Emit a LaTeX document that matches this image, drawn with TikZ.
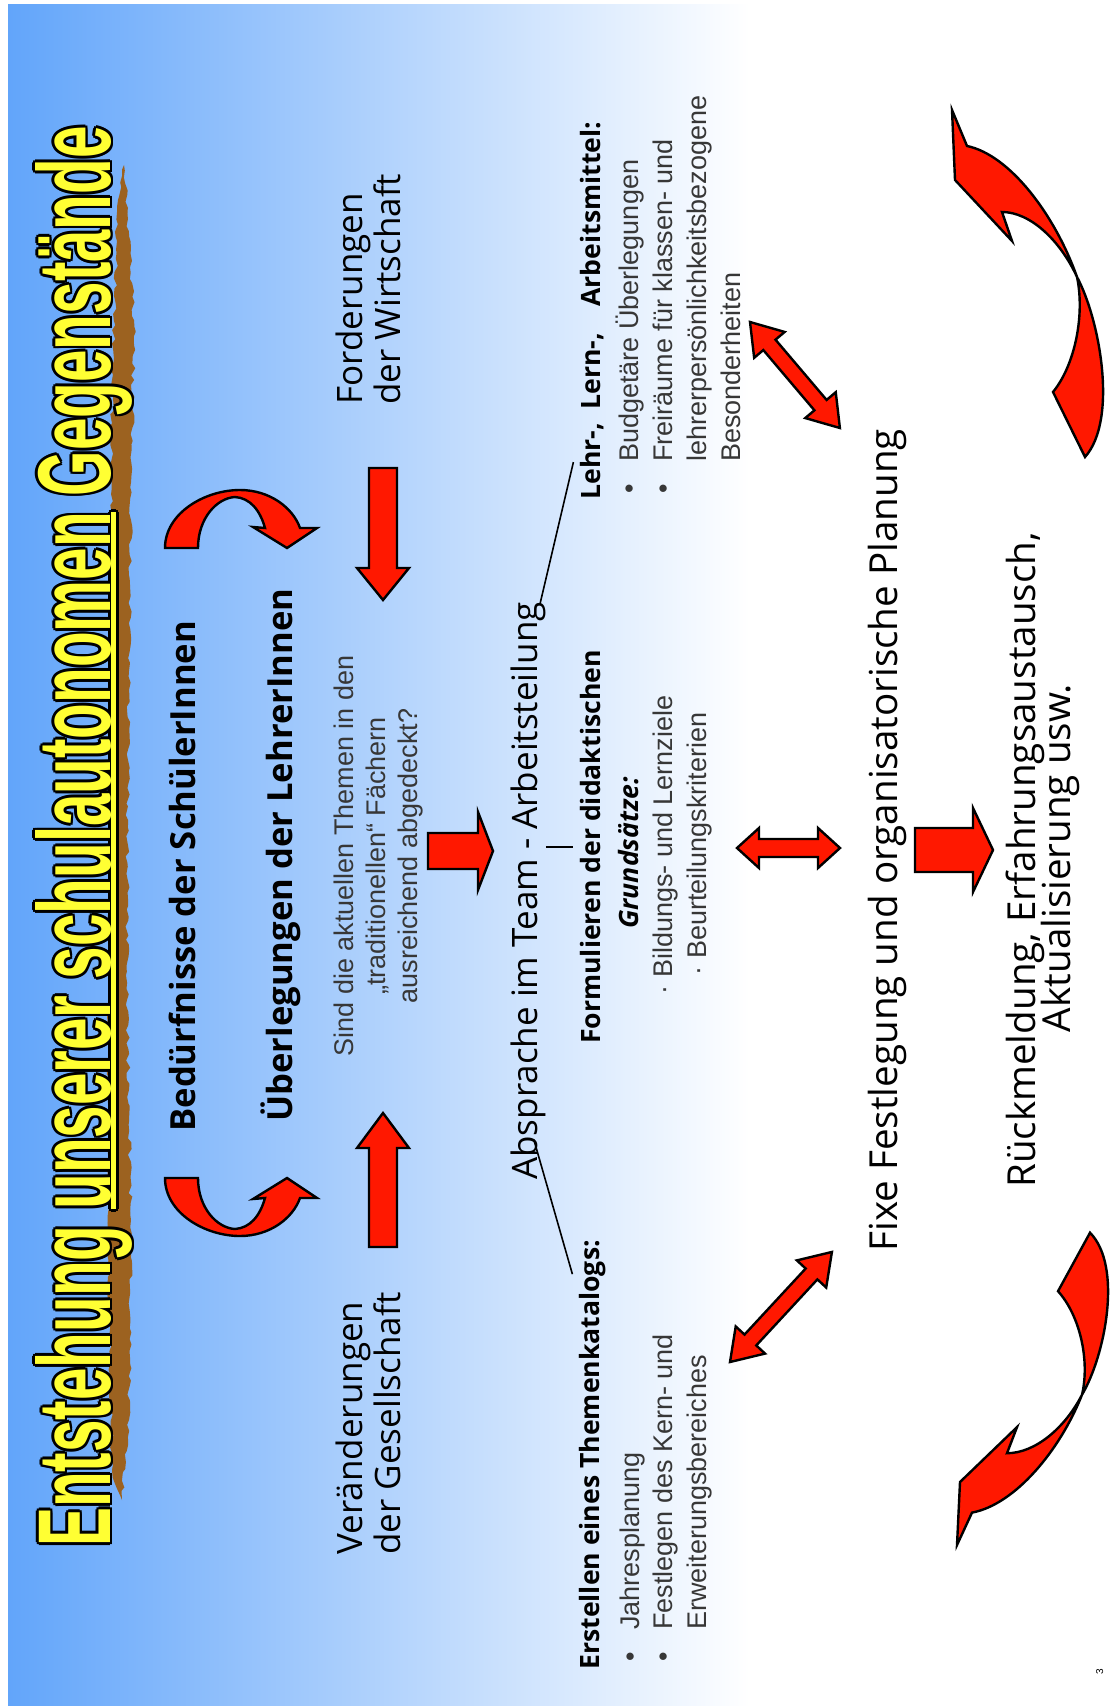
\documentclass[tikz,border=0pt]{standalone}
\usepackage{fontspec}
\usepackage{graphicx}
\usetikzlibrary{calc,decorations.pathmorphing}

\setmainfont{Open Sans}
\newfontfamily\comic{Open Sans}
\newfontfamily\arial{Liberation Sans}

\definecolor{slideblue}{RGB}{98,165,250}
\definecolor{arrowred}{RGB}{255,24,0}
\definecolor{titleyellow}{RGB}{255,255,51}
\definecolor{shadowbrown}{RGB}{156,98,32}
\definecolor{textgray}{RGB}{55,55,55}

%titel
\newcommand{\ulin}[1]{\setbox0\hbox{#1}\rlap{\rule[-0.6pt]{\wd0}{0.5pt}}\box0\relax}
\newcommand{\titletext}{\resizebox{710pt}{37.5pt}{\arial\bfseries Entstehung \ulin{unserer schulautonomen} Gegenstände}}

\tikzset{
  vline/.style={rotate=90, anchor=base west, inner sep=0pt},
  vmid/.style={rotate=90, anchor=base, inner sep=0pt},
  comicbig/.style={font=\comic\fontsize{17.5}{21}\selectfont},
  comichuge/.style={font=\comic\fontsize{19.3}{23}\selectfont},
  comicbold/.style={font=\comic\bfseries\fontsize{17.3}{21}\selectfont},
  comichead/.style={font=\comic\bfseries\fontsize{13.3}{16}\selectfont},
  comicheadit/.style={font=\comic\bfseries\itshape\fontsize{13.3}{16}\selectfont},
  arialtext/.style={font=\arial\fontsize{13.5}{16}\selectfont, text=textgray},
  redarrow/.style={fill=arrowred, draw=black, line width=1.2pt},
  thinline/.style={draw=black, line width=0.8pt},
  pics/blockarrow/.style args={#1/#2/#3/#4}{code={
    \draw[redarrow] (0,-#2) -- (#1,-#2) -- (#1,-#4) -- ({#1+#3},0) -- (#1,#4) -- (#1,#2) -- (0,#2) -- cycle;
  }},
  pics/dblarrow/.style args={#1/#2/#3/#4}{code={
    \draw[redarrow] (0,0) -- (#3,-#4) -- (#3,-#2) -- ({#1-#3},-#2) -- ({#1-#3},-#4) -- (#1,0) -- ({#1-#3},#4) -- ({#1-#3},#2) -- (#3,#2) -- (#3,#4) -- cycle;
  }},
  pics/smallcurve/.style={code={
    \draw[redarrow] (0,0) .. controls (0,-35) and (40,-58) .. (75,-58) .. controls (105,-58) and (128,-40) .. (135,-20) -- (152,-20) -- (122,0) -- (88,-21) -- (100,-20) .. controls (95,-38) and (85,-50) .. (70,-51) .. controls (52,-50) and (33,-30) .. (33,0) -- cycle;
  }},
  pics/bigcurve/.style={code={
    \draw[redarrow] (0,0) -- (15,36) .. controls (58,45) and (103,105) .. (125,167) .. controls (148,210) and (166,310) .. (133,347) -- (101,282) .. controls (123,255) and (133,205) .. (125,167) .. controls (108,130) and (78,102) .. (50,102) -- (60,131) -- (3,70) -- cycle;
  }},
}

\begin{document}
\begin{tikzpicture}[x=0.5pt,y=-0.5pt]
\useasboundingbox (0,0) rectangle (1111,1706);
\clip (0,0) rectangle (1111,1706);

%hintergrund
\fill[white] (0,0) rectangle (1111,1706);
\shade[left color=slideblue, right color=white] (8,5) rectangle (750,1706);

%titel mit schatten
\pgfmathsetseed{7}
\fill[shadowbrown, decorate, decoration={random steps, segment length=3pt, amplitude=1pt}]
  (124,165) -- (134,320) -- (131,520) -- (128,760) -- (127,1000) -- (131,1220) -- (129,1420)
  -- (122,1500) -- (112,1470) -- (108,1230) -- (109,950) -- (110,650) -- (112,380) -- (118,200) -- cycle;
\foreach \dx/\dy [count=\k] in {-1.4/0, 1.4/0, 0/-1.4, 0/1.4, -1/-1, -1/1, 1/-1, 1/1}
  \node[vline, text=black, xshift=\dx pt, yshift=\dy pt] (titelrand\k) at (110,1547) {\titletext};
\node[vline, text=titleyellow] (titel) at (110,1547) {\titletext};

%oberer block
\node[vline, comicbold] (beduerfnisse) at (195,1132) {Bedürfnisse der SchülerInnen};
\node[vline, comicbold] (ueberlegungen) at (292,1122) {Überlegungen der LehrerInnen};
\node[vmid, arialtext] (frage1) at (353,856) {Sind die aktuellen Themen in den};
\node[vmid, arialtext] (frage2) at (385,856) {„traditionellen“ Fächern};
\node[vmid, arialtext] (frage3) at (417,856) {ausreichend abgedeckt?};
\node[vline, comicbig] (gesell1) at (362,1555) {Veränderungen};
\node[vline, comicbig] (gesell2) at (400,1555) {der Gesellschaft};
\node[vline, comicbig] (wirt1) at (362,405) {Forderungen};
\node[vline, comicbig] (wirt2) at (400,405) {der Wirtschaft};

\pic at (165,548) {smallcurve};
\pic[yscale=-1] at (165,1178) {smallcurve};
\pic[rotate=-90] at (383,468) {blockarrow=100/14/32/26};
\pic[rotate=90] at (383,1247) {blockarrow=99/14/35/26};
\pic at (428,851) {blockarrow=50/18/15/39};

%absprache
\node[vline, comicbig] (absprache) at (537,1180) {Absprache im Team - Arbeitsteilung};

%drei spalten
\node[vline, comichead] (erstellen) at (599,1670) {Erstellen eines Themenkatalogs:};
\node[vline, arialtext] (jahr) at (639,1662) {\makebox[16pt][l]{•}Jahresplanung};
\node[vline, arialtext] (kern) at (672,1662) {\makebox[16pt][l]{•}Festlegen des Kern- und};
\node[vline, arialtext] (erweiterung) at (706,1630) {Erweiterungsbereiches};

\node[vmid, comichead] (formulieren) at (600,847) {Formulieren der didaktischen};
\node[vmid, comicheadit] (grundsaetze) at (638,853) {Grundsätze:};
\node[vmid, arialtext] (bildung) at (672,845) {·\ Bildungs- und Lernziele};
\node[vmid, arialtext] (beurteilung) at (706,844) {·\ Beurteilungskriterien};

\node[vline, comichead] (lehrmittel) at (600,500) {Lehr-,\enspace Lern-,\quad Arbeitsmittel:};
\node[vline, arialtext] (budget) at (638,494) {\makebox[16pt][l]{•}Budgetäre Überlegungen};
\node[vline, arialtext] (freiraum) at (672,494) {\makebox[16pt][l]{•}Freiräume für klassen- und};
\node[vline, arialtext] (lehrerpers) at (706,462) {lehrerpersönlichkeitsbezogene};
\node[vline, arialtext] (besonder) at (740,462) {Besonderheiten};

%verbindungslinien
\draw[thinline] ($(absprache.south west)!0.07!(absprache.south east)+(-12,0)$) -- ($(erstellen.north west)!0.92!(erstellen.north east)+(-6,0)$);
\draw[thinline] (absprache.south |- formulieren.north) -- ($(formulieren.north)+(-6,0)$);
\draw[thinline] ($(absprache.south east)+(-6,3)$) -- ($(lehrmittel.north west)!0.1!(lehrmittel.north east)+(-6,0)$);

%doppelpfeile
\pic[rotate=47.2] at (730,1362) {dblarrow=150/8/30/20};
\pic at (737,848) {dblarrow=103/9/22/20};
\pic[rotate=-49.7] at (750,322) {dblarrow=139/8/30/20};

%unterer block
\node[vline, comichuge] (fixe) at (897,1252) {Fixe Festlegung und organisatorische Planung};
\pic at (915,850) {blockarrow=58/22/20/42};
\node[vmid, comichuge] (rueck1) at (1035,860) {Rückmeldung, Erfahrungsaustausch,};
\node[vmid, comichuge] (rueck2) at (1070,858) {Aktualisierung usw.};

%kreislauf
\pic at (952,110) {bigcurve};
\pic[yscale=-0.9] at (957,1545) {bigcurve};

\node[vmid, font=\arial\fontsize{5}{6}\selectfont] (seite) at (1103,1672) {3};
\end{tikzpicture}
\end{document}
